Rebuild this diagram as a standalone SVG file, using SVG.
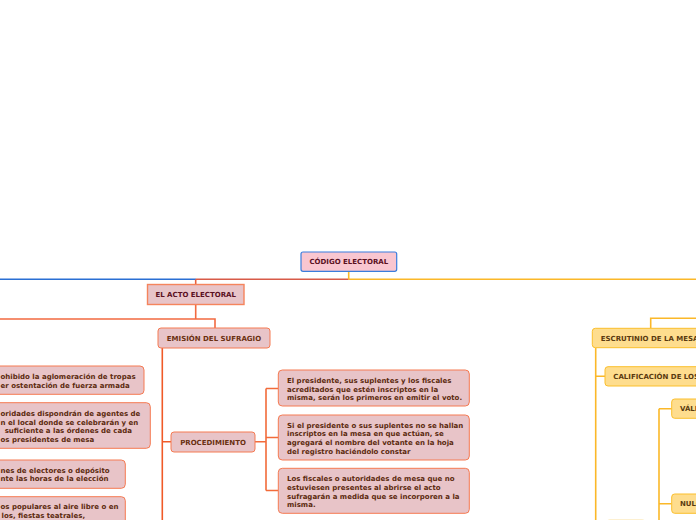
<svg xmlns="http://www.w3.org/2000/svg" width="696" height="520" viewBox="0 0 696 520">
<style>
text{font-family:"DejaVu Sans",Verdana,sans-serif;font-size:7px;font-weight:bold}
.root rect{fill:#f9c6d0;stroke:#3b7ddd;stroke-width:1.2}
.root text,.main text{fill:#5a0f1e}
.main rect{fill:#e8c4c8;stroke:#f5845c;stroke-width:1.4}
.sub rect{fill:#e8c4c8;stroke:#f57a52;stroke-width:1}
.sub text{fill:#6a3010}
.body text{fill:#5c2a0e}
.yel rect{fill:#fedd8e;stroke:#fbbf2c;stroke-width:1}
.yel text{fill:#5a3a10}
.c{fill:none;stroke-width:1.6}
</style>
<rect width="696" height="520" fill="#fff"/>
<g id="connectors">
<path class="c" stroke="#2a6fd4" d="M0 279.3H196"/>
<path class="c" stroke="#d85a48" d="M196 279.3H348.7"/>
<path class="c" stroke="#fbb829" d="M348.7 279.3H696M348.7 271.3V279.3"/>
<path class="c" stroke="#e8603c" d="M195.7 279.3V284.5"/>
<path class="c" stroke="#f26a40" d="M195.7 304.5V319H0M195.7 319H215V328"/>
<path class="c" stroke="#f05a28" d="M162.3 348V520M162.3 441.7H171"/>
<path class="c" stroke="#f26b3a" d="M255 441.7H266M266 388.5V490.5M266 388.5H278.3M266 437.5H278.3M266 490.5H278.3"/>
<path class="c" stroke="#fbb829" d="M696 318.3H650.7V328.3M595.7 347.7V520M595.7 376.3H605M659 408.7V520M659 408.7H671.7M659 503.7H671.7"/>
</g>
<g id="codigo" class="root"><rect x="301" y="252" width="95.7" height="19.3" rx="2"/><text x="348.8" y="264.3" text-anchor="middle">CÓDIGO ELECTORAL</text></g>
<g id="acto" class="main"><rect x="147.5" y="284.5" width="96.5" height="20"/><text x="195.7" y="297" text-anchor="middle">EL ACTO ELECTORAL</text></g>
<g id="emision" class="sub"><rect x="158" y="328" width="112" height="20" rx="3"/><text x="214" y="340.6" text-anchor="middle">EMISIÓN DEL SUFRAGIO</text></g>
<g id="procedimiento" class="sub"><rect x="171" y="432" width="84" height="20" rx="3"/><text x="213" y="444.6" text-anchor="middle">PROCEDIMIENTO</text></g>
<g id="proc1" class="sub body"><rect x="278.3" y="370" width="191" height="36" rx="4"/><text x="287" y="383">El presidente, sus suplentes y los fiscales</text><text x="287" y="391.6">acreditados que estén inscriptos en la</text><text x="287" y="400.2">misma, serán los primeros en emitir el voto.</text></g>
<g id="proc2" class="sub body"><rect x="278.3" y="415" width="191" height="45" rx="4"/><text x="287" y="427.8">Si el presidente o sus suplentes no se hallan</text><text x="287" y="436.4">inscriptos en la mesa en que actúan, se</text><text x="287" y="445">agregará el nombre del votante en la hoja</text><text x="287" y="453.6">del registro haciéndolo constar</text></g>
<g id="proc3" class="sub body"><rect x="278.3" y="468.3" width="191" height="45" rx="4"/><text x="287" y="481.3">Los fiscales o autoridades de mesa que no</text><text x="287" y="489.9">estuviesen presentes al abrirse el acto</text><text x="287" y="498.5">sufragarán a medida que se incorporen a la</text><text x="287" y="507.1">misma.</text></g>
<g id="left1" class="sub body"><rect x="-60" y="366" width="204" height="28.3" rx="4"/><text x="0.5" y="379.2">ohibido la aglomeración de tropas</text><text x="0.5" y="387.9">er ostentación de fuerza armada</text></g>
<g id="left2" class="sub body"><rect x="-60" y="402.7" width="210.3" height="45.6" rx="4"/><text x="0.5" y="415.8">oridades dispondrán de agentes de</text><text x="0.5" y="424.5">n el local donde se celebrarán y en</text><text x="4.7" y="433.2">suficiente a las órdenes de cada</text><text x="0.5" y="441.9">os presidentes de mesa</text></g>
<g id="left3" class="sub body"><rect x="-60" y="460" width="185.3" height="28.3" rx="4"/><text x="0.5" y="472.6">nes de electores o depósito</text><text x="0.5" y="481.3">nte las horas de la elección</text></g>
<g id="left4" class="sub body"><rect x="-60" y="496.7" width="185.3" height="40" rx="4"/><text x="0.5" y="509.3">os populares al aire libre o en</text><text x="1.5" y="518">los, fiestas teatrales,</text></g>
<g id="escrutinio" class="yel"><rect x="592.3" y="328.3" width="140" height="19.4" rx="3"/><text x="600.7" y="340.6">ESCRUTINIO DE LA MESA</text></g>
<g id="calificacion" class="yel"><rect x="605" y="366.7" width="140" height="19.3" rx="3"/><text x="613.3" y="378.9">CALIFICACIÓN DE LOS VOTOS</text></g>
<g id="validos" class="yel"><rect x="671.7" y="399" width="60" height="19.3" rx="3"/><text x="680" y="411.2">VÁLIDOS</text></g>
<g id="nulos" class="yel"><rect x="671.7" y="494" width="60" height="19.3" rx="3"/><text x="680" y="506.2">NULOS</text></g>
<g id="faint"><rect x="607" y="519.5" width="38" height="20" rx="3" fill="#fffaf0" stroke="#fdf0d0" stroke-width="1"/></g>
</svg>
